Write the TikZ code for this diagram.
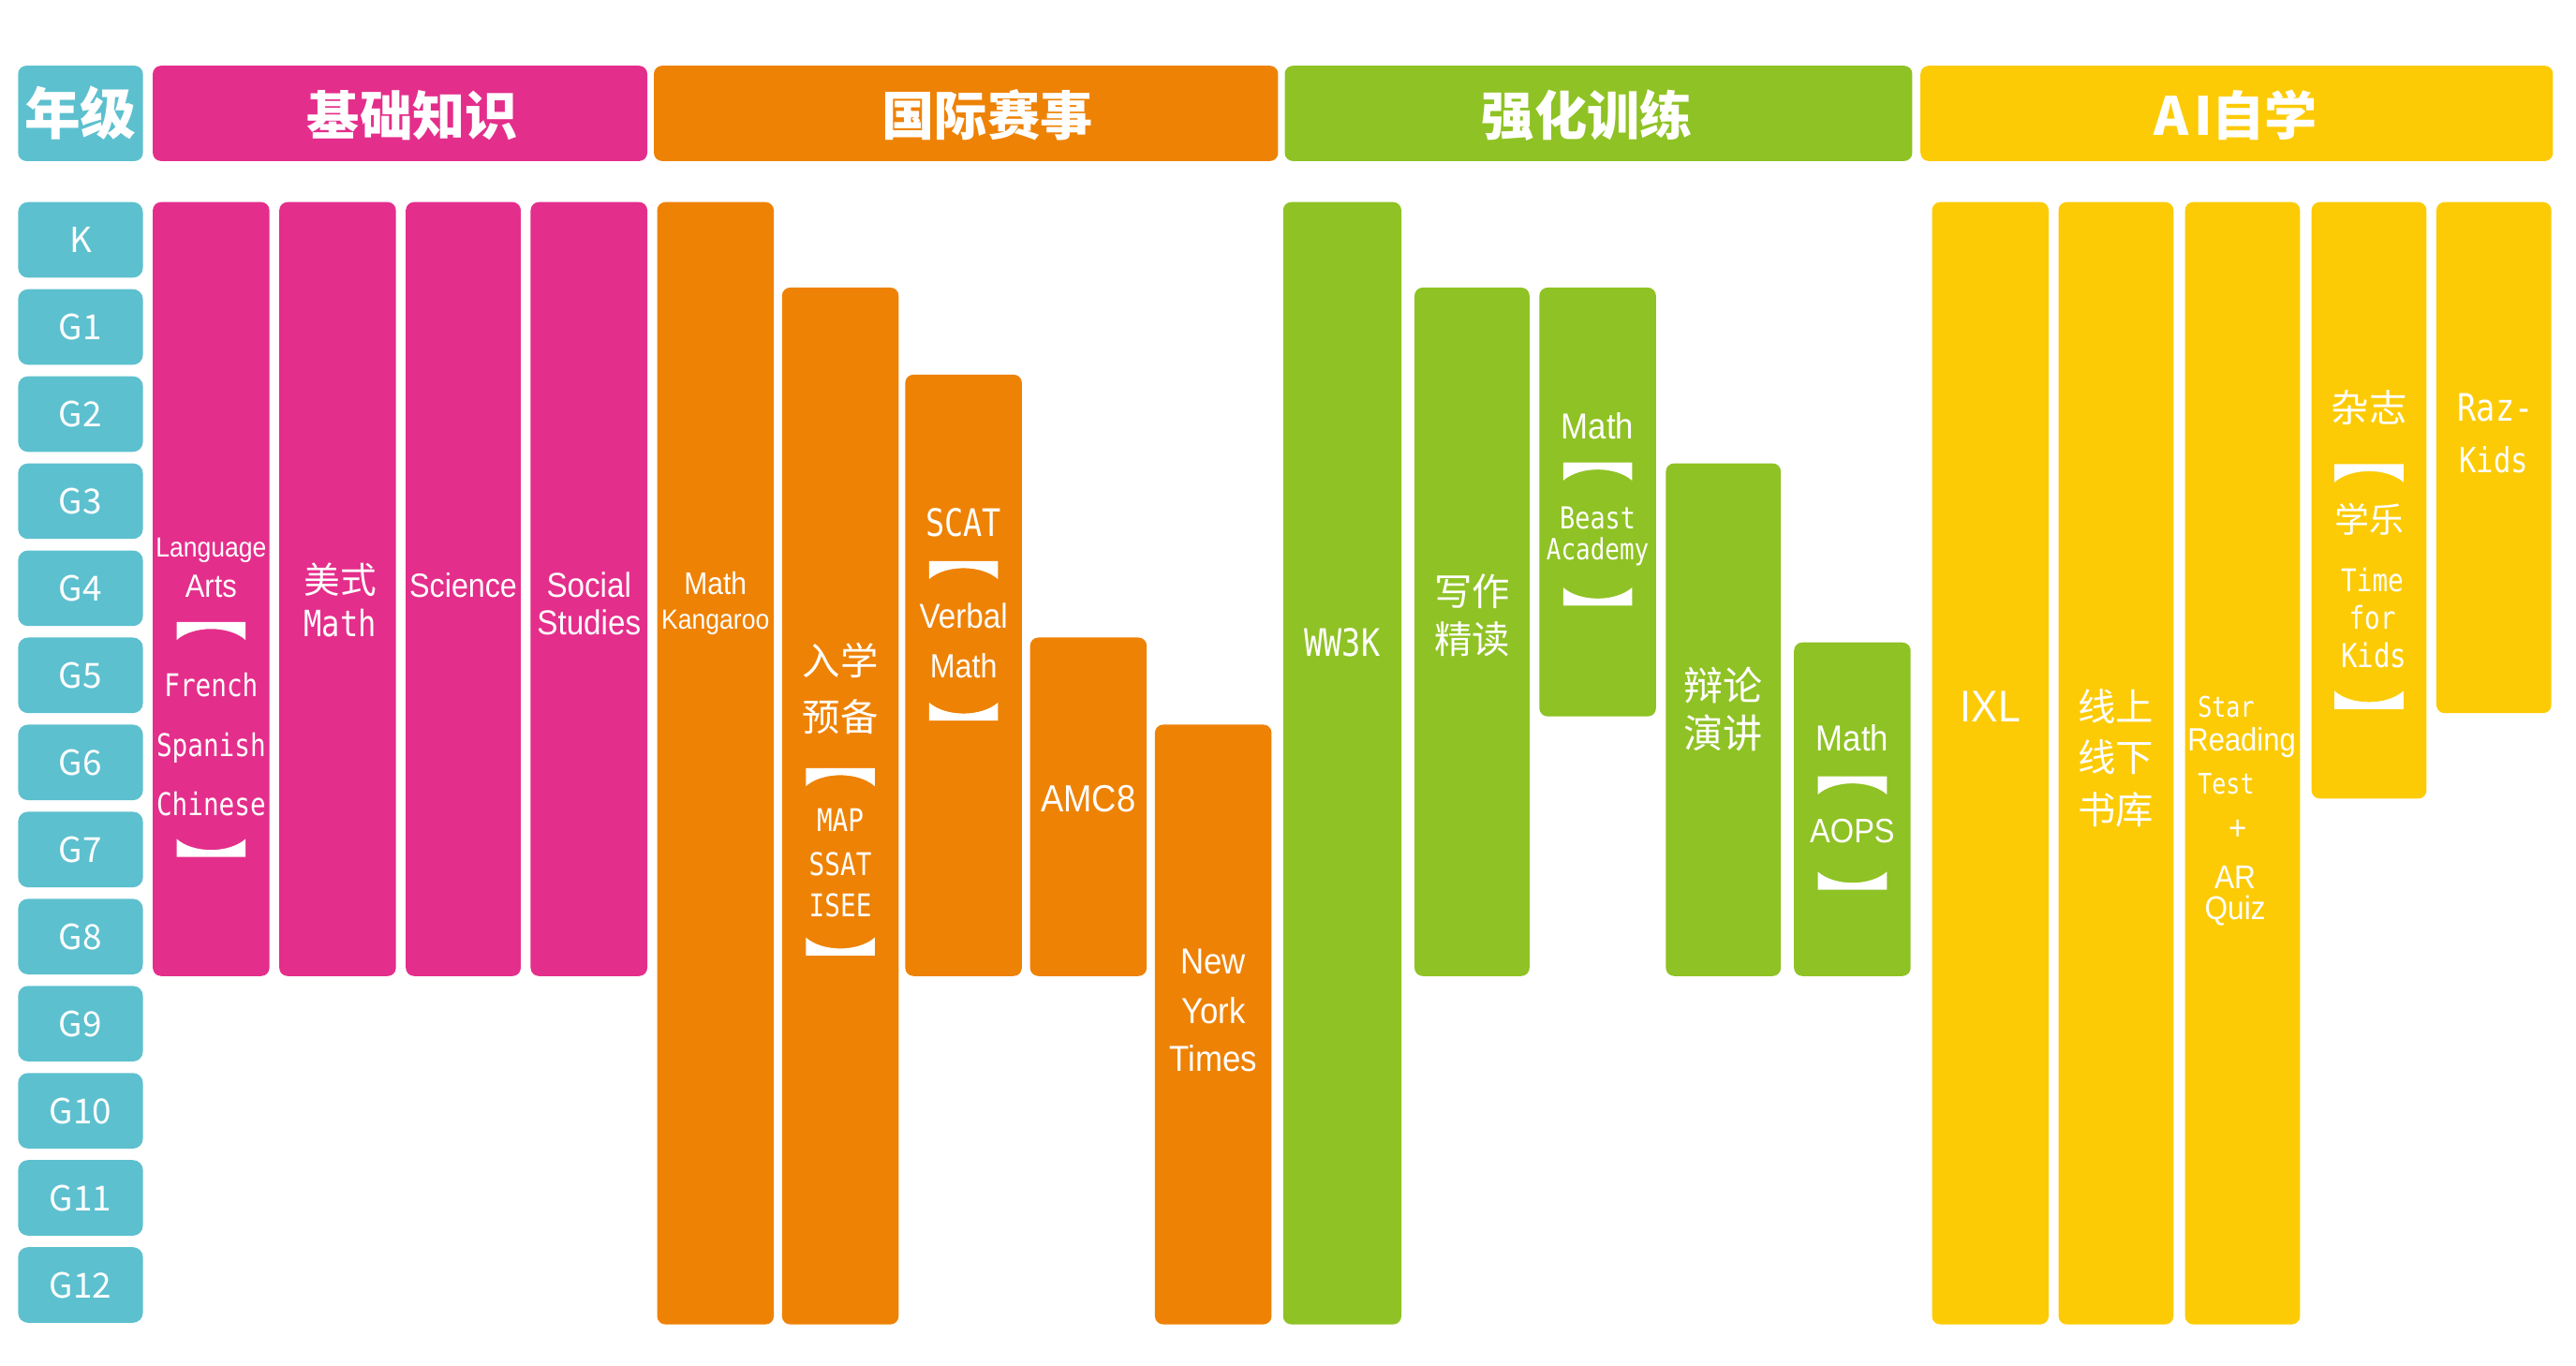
\documentclass[tikz,border=0pt]{standalone}
\usepackage{fontspec}
\setmainfont{Noto Sans CJK SC}
\newfontfamily\humfont{Liberation Sans}[FakeStretch=0.9]
\newfontfamily\halffont{DejaVu Sans Mono}[FakeStretch=0.83]
\usepackage{tikz}

\definecolor{gradeteal}{RGB}{93,192,207}
\definecolor{basepink}{RGB}{228,46,139}
\definecolor{contestorange}{RGB}{238,130,5}
\definecolor{drillgreen}{RGB}{143,194,36}
\definecolor{selfyellow}{RGB}{252,203,6}

\tikzset{
	bar/.style={rounded corners=2.5pt},
	gradebox/.style={fill=gradeteal, rounded corners=3pt, minimum width=1.333cm, minimum height=0.807cm, inner sep=0pt, text=white, font=\fontsize{10.5}{10.5}\selectfont},
	head/.style={text=white, inner sep=0pt, font=\fontsize{16}{16}\selectfont\bfseries},
	hum/.style={text=white, inner sep=0pt, font=\humfont\fontsize{10.5}{10.5}\selectfont},
	half/.style={text=white, inner sep=0pt, font=\halffont\fontsize{9.5}{9.5}\selectfont},
	cjk/.style={text=white, inner sep=0pt, font=\fontsize{11.5}{11.5}\selectfont},
}

% white bracket marks, centred at (x,y)
\newcommand{\capmark}[2]{\fill[white] (#1-21,#2-5.5) -- (#1+21,#2-5.5) -- (#1+21,#2+5.5) .. controls (#1+11,#2-3.5) and (#1-11,#2-3.5) .. (#1-21,#2+5.5) -- cycle;}
\newcommand{\cupmark}[2]{\fill[white] (#1-21,#2+5.5) -- (#1+21,#2+5.5) -- (#1+21,#2-5.5) .. controls (#1+11,#2+3.5) and (#1-11,#2+3.5) .. (#1-21,#2-5.5) -- cycle;}

\begin{document}
\begin{tikzpicture}[x=0.01754cm, y=-0.01754cm]
	\useasboundingbox (0,0) rectangle (1568,831.3);

	% header row
	\fill[gradeteal, bar] (11,40) rectangle (87,98);
	\fill[basepink, bar] (93,40) rectangle (394,98);
	\fill[contestorange, bar] (398,40) rectangle (778,98);
	\fill[drillgreen, bar] (782,40) rectangle (1164,98);
	\fill[selfyellow, bar] (1169,40) rectangle (1554,98);
	\node[head, font=\fontsize{17}{17}\selectfont\bfseries] (hgrade) at (49,69) {年级};
	\node[head] (hbase) at (251,70) {基础知识};
	\node[head] (hcontest) at (601,70) {国际赛事};
	\node[head] (hdrill) at (966,70) {强化训练};
	\node[head] (hself) at (1361,70) {A\kern1.5pt I自学};

	% grades
	\node[gradebox] (gK) at (49,146) {K};
	\node[gradebox] (g1) at (49,199) {G1};
	\node[gradebox] (g2) at (49,252) {G2};
	\node[gradebox] (g3) at (49,305) {G3};
	\node[gradebox] (g4) at (49,358) {G4};
	\node[gradebox] (g5) at (49,411) {G5};
	\node[gradebox] (g6) at (49,464) {G6};
	\node[gradebox] (g7) at (49,517) {G7};
	\node[gradebox] (g8) at (49,570) {G8};
	\node[gradebox] (g9) at (49,623) {G9};
	\node[gradebox] (g10) at (49,676) {G10};
	\node[gradebox] (g11) at (49,729) {G11};
	\node[gradebox] (g12) at (49,782) {G12};

	% basics
	\fill[basepink, bar] (93,123) rectangle (164,594);
	\fill[basepink, bar] (170,123) rectangle (241,594);
	\fill[basepink, bar] (247,123) rectangle (317,594);
	\fill[basepink, bar] (323,123) rectangle (394,594);
	\node[hum, font=\humfont\fontsize{8.4}{8.4}\selectfont] (lang1) at (128.5,335) {Language};
	\node[hum, font=\humfont\fontsize{9.8}{9.8}\selectfont] (lang2) at (128.5,357) {Arts};
	\capmark{128.5}{384}
	\node[half] (french) at (128.5,417) {French};
	\node[half] (spanish) at (128.5,455) {Spanish};
	\node[half] (chinese) at (128.5,489) {Chinese};
	\cupmark{128.5}{516}
	\node[cjk, font=\fontsize{11}{11}\selectfont] (usmath1) at (207,353) {美式};
	\node[half, font=\halffont\fontsize{11}{11}\selectfont] (usmath2) at (207,379) {Math};
	\node[hum, font=\humfont\fontsize{10.2}{10.2}\selectfont] (science) at (282,356) {Science};
	\node[hum] (social1) at (358.5,356) {Social};
	\node[hum] (social2) at (358.5,379) {Studies};

	% contests
	\fill[contestorange, bar] (400,123) rectangle (471,806);
	\fill[contestorange, bar] (476,175) rectangle (547,806);
	\fill[contestorange, bar] (551,228) rectangle (622,594);
	\fill[contestorange, bar] (627,388) rectangle (698,594);
	\fill[contestorange, bar] (703,441) rectangle (774,806);
	\node[hum, font=\humfont\fontsize{9.5}{9.5}\selectfont] (kang1) at (435.5,355) {Math};
	\node[hum, font=\humfont\fontsize{8.4}{8.4}\selectfont] (kang2) at (435.5,379) {Kangaroo};
	\node[cjk] (prep1) at (511.5,402) {入学};
	\node[cjk] (prep2) at (511.5,436) {预备};
	\capmark{511.5}{473}
	\node[half] (map) at (511.5,499) {MAP};
	\node[half] (ssat) at (511.5,526) {SSAT};
	\node[half] (isee) at (511.5,551) {ISEE};
	\cupmark{511.5}{576}
	\node[half, font=\halffont\fontsize{11.5}{11.5}\selectfont] (scat) at (586.5,318) {SCAT};
	\capmark{586.5}{347}
	\node[hum] (verbal1) at (586.5,375) {Verbal};
	\node[hum, font=\humfont\fontsize{10.2}{10.2}\selectfont] (verbal2) at (586.5,405) {Math};
	\cupmark{586.5}{433}
	\node[hum, font=\humfont\fontsize{11.5}{11.5}\selectfont] (amc) at (662.5,486) {AMC8};
	\node[hum, font=\humfont\fontsize{11}{11}\selectfont] (nyt1) at (738.5,585) {New};
	\node[hum, font=\humfont\fontsize{11}{11}\selectfont] (nyt2) at (738.5,615) {York};
	\node[hum, font=\humfont\fontsize{11}{11}\selectfont] (nyt3) at (738.5,644) {Times};

	% drills
	\fill[drillgreen, bar] (781,123) rectangle (853,806);
	\fill[drillgreen, bar] (861,175) rectangle (931,594);
	\fill[drillgreen, bar] (937,175) rectangle (1008,436);
	\fill[drillgreen, bar] (1014,282) rectangle (1084,594);
	\fill[drillgreen, bar] (1092,391) rectangle (1163,594);
	\node[half, font=\halffont\fontsize{11.5}{11.5}\selectfont] (ww3k) at (817,391) {WW3K};
	\node[cjk] (write1) at (896,360) {写作};
	\node[cjk] (write2) at (896,389) {精读};
	\node[hum, font=\humfont\fontsize{11}{11}\selectfont] (beast1) at (972.5,259) {Math};
	\capmark{972.5}{287}
	\node[half, font=\halffont\fontsize{9.2}{9.2}\selectfont] (beast2) at (972.5,315) {Beast};
	\node[half, font=\halffont\fontsize{8.9}{8.9}\selectfont] (beast3) at (972.5,336) {Academy};
	\cupmark{972.5}{363}
	\node[cjk, font=\fontsize{12}{12}\selectfont] (debate1) at (1049,417) {辩论};
	\node[cjk, font=\fontsize{12}{12}\selectfont] (debate2) at (1049,446) {演讲};
	\node[hum, font=\humfont\fontsize{11}{11}\selectfont] (aops1) at (1127.5,449) {Math};
	\capmark{1127.5}{478}
	\node[hum, font=\humfont\fontsize{10.3}{10.3}\selectfont] (aops2) at (1127.5,506) {AOPS};
	\cupmark{1127.5}{536}

	% self study
	\fill[selfyellow, bar] (1176,123) rectangle (1247,806);
	\fill[selfyellow, bar] (1253,123) rectangle (1323,806);
	\fill[selfyellow, bar] (1330,123) rectangle (1400,806);
	\fill[selfyellow, bar] (1407,123) rectangle (1477,486);
	\fill[selfyellow, bar] (1483,123) rectangle (1553,434);
	\node[hum, font=\humfont\fontsize{13.5}{13.5}\selectfont] (ixl) at (1211.5,430) {IXL};
	\node[cjk] (lib1) at (1288,430) {线上};
	\node[cjk] (lib2) at (1288,461) {线下};
	\node[cjk] (lib3) at (1288,493) {书库};
	\node[half, font=\halffont\fontsize{8.6}{8.6}\selectfont] (star1) at (1355,430) {Star};
	\node[hum, font=\humfont\fontsize{9.8}{9.8}\selectfont] (star2) at (1364.5,452) {Reading};
	\node[half, font=\halffont\fontsize{8.6}{8.6}\selectfont] (star3) at (1355,477) {Test};
	\node[hum] (plus) at (1362,505) {+};
	\node[hum, font=\humfont\fontsize{10}{10}\selectfont] (ar1) at (1360.5,534) {AR};
	\node[hum, font=\humfont\fontsize{10}{10}\selectfont] (ar2) at (1360.5,554) {Quiz};
	\node[cjk] (mag) at (1442,248) {杂志};
	\capmark{1442}{288}
	\node[cjk, font=\fontsize{10.5}{10.5}\selectfont] (scholastic) at (1442,316) {学乐};
	\node[half] (tfk1) at (1444,353) {Time};
	\node[half] (tfk2) at (1444,376) {for};
	\node[half, font=\halffont\fontsize{10}{10}\selectfont] (tfk3) at (1445,399) {Kids};
	\cupmark{1442}{426}
	\node[half, font=\halffont\fontsize{11.5}{11.5}\selectfont] (raz1) at (1519,248) {Raz-};
	\node[half, font=\halffont\fontsize{10.5}{10.5}\selectfont] (raz2) at (1518,280) {Kids};
\end{tikzpicture}
\end{document}
